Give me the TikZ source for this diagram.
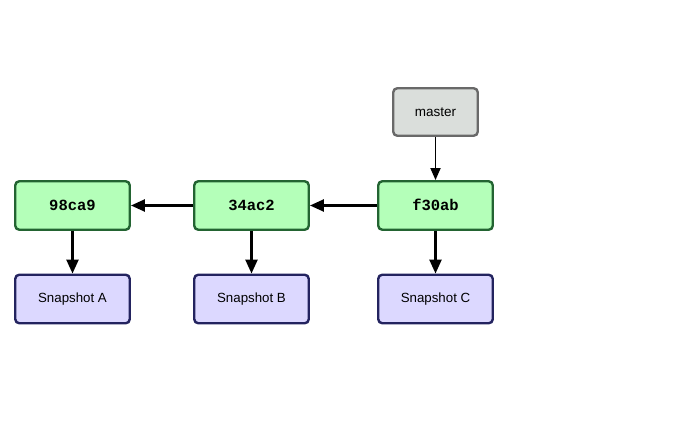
\documentclass[tikz,border=0pt]{standalone}
\usepackage{fontspec}
\setmainfont{Liberation Sans}
\setmonofont{Liberation Mono}
\usetikzlibrary{arrows.meta}

\definecolor{commitfill}{RGB}{180,255,185}
\definecolor{commitline}{RGB}{35,100,50}
\definecolor{snapfill}{RGB}{220,216,255}
\definecolor{snapline}{RGB}{35,35,95}
\definecolor{branchfill}{RGB}{218,222,219}
\definecolor{branchline}{RGB}{105,105,105}

\begin{document}
\begin{tikzpicture}[x=1pt, y=-1pt,
  commit/.style={draw=commitline, fill=commitfill, line width=2.4pt, rounded corners=4pt,
    minimum width=114.5pt, minimum height=48.5pt, text height=10pt, text depth=0pt,
    font=\fontsize{15.5}{18}\selectfont\ttfamily\bfseries},
  snapshot/.style={draw=snapline, fill=snapfill, line width=2.4pt, rounded corners=4pt,
    minimum width=114.5pt, minimum height=48.5pt, font=\fontsize{13.3}{16}\selectfont},
  branch/.style={draw=branchline, fill=branchfill, line width=2.4pt, rounded corners=4pt,
    minimum width=84.5pt, minimum height=47.5pt, font=\fontsize{13.5}{16}\selectfont},
  seta/.style={line width=2.4pt, -{Triangle[length=14pt, width=12pt]}},
  setafina/.style={line width=1.8pt, -{Triangle[length=12pt, width=10pt]}}]
\useasboundingbox (0,0) rectangle (700,428);

% Commits
\node[commit] (c1) at (72.5,205.5) {98ca9};
\node[commit] (c2) at (251.5,205.5) {34ac2};
\node[commit] (c3) at (435.5,205.5) {f30ab};

% Snapshots
\node[snapshot] (s1) at (72.5,299) {Snapshot A};
\node[snapshot] (s2) at (251.5,299) {Snapshot B};
\node[snapshot] (s3) at (435.5,299) {Snapshot C};

% Branch
\node[branch] (master) at (435.5,112) {master};

% Pais
\draw[seta] (c2) -- (c1);
\draw[seta] (c3) -- (c2);

% Arvores
\draw[seta] (c1) -- (s1);
\draw[seta] (c2) -- (s2);
\draw[seta] (c3) -- (s3);

% Ponteiro
\draw[setafina] (master) -- (c3);
\end{tikzpicture}
\end{document}
